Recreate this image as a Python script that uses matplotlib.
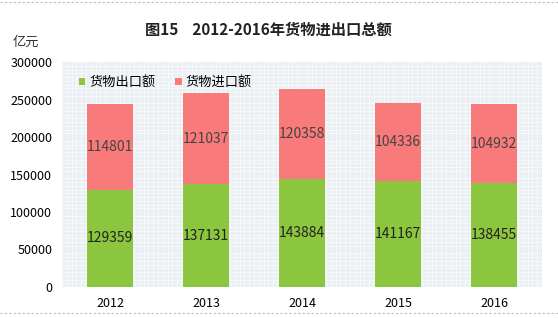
import matplotlib
matplotlib.use("Agg")
import matplotlib.pyplot as plt
from matplotlib.ticker import MultipleLocator

plt.rcParams['font.family'] = ['Noto Sans CJK SC', 'DejaVu Sans']

years = ['2012', '2013', '2014', '2015', '2016']
exports = [129359, 137131, 143884, 141167, 138455]
imports = [114801, 121037, 120358, 104336, 104932]
yticks = [0, 50000, 100000, 150000, 200000, 250000, 300000]

green = '#8cc63f'
red = '#f87a7a'

fig = plt.figure(figsize=(5.58, 3.18), dpi=100)
ax = fig.add_axes([62 / 558, 31 / 318, 480 / 558, 225 / 318])
ax.set_facecolor('#e9eff2')

x = range(len(years))
ax.bar(x, exports, width=0.48, color=green, label='货物出口额', zorder=3)
ax.bar(x, imports, width=0.48, bottom=exports, color=red, label='货物进口额', zorder=3)

for i in x:
    ax.text(i, exports[i] / 2, str(exports[i]), ha='center', va='center',
            fontsize=10, color='#222222', zorder=4)
    ax.text(i, exports[i] + imports[i] / 2, str(imports[i]), ha='center',
            va='center', fontsize=10, color='#444444', zorder=4)

ax.set_xlim(-0.5, 4.5)
ax.set_ylim(0, 300000)
ax.set_xticks(list(x))
ax.set_xticklabels(years, fontsize=9)
ax.set_yticks(yticks)
ax.set_yticklabels([str(t) for t in yticks], fontsize=9)
ax.tick_params(length=0, pad=7)

# fine textured background like the original
ax.xaxis.set_minor_locator(MultipleLocator(0.05))
ax.yaxis.set_minor_locator(MultipleLocator(5000))
ax.grid(True, which='minor', color='white', linewidth=0.5, alpha=0.8, zorder=1)
ax.grid(False, which='major')
for s in ax.spines.values():
    s.set_visible(False)
ax.tick_params(which='minor', length=0)

ax.legend(loc='upper left', ncol=2, frameon=False, fontsize=9.5,
          handlelength=0.5, handleheight=0.5, handletextpad=0.3,
          columnspacing=1.5, bbox_to_anchor=(0.01, 0.99))

fig.text(268 / 558, 1 - 30 / 318, '图15    2012-2016年货物进出口总额',
         ha='center', va='center', fontsize=11, fontweight='bold', color='#222222')
fig.text(26 / 558, 1 - 42 / 318, '亿元', ha='center', va='center',
         fontsize=9.5, color='#333333')

# dashed page border lines top and bottom
for yy in (2, 313):
    fig.add_artist(plt.Line2D([0, 1], [1 - yy / 318] * 2, color='#bbbbbb',
                              linestyle=(0, (2, 2)), linewidth=0.8))

fig.savefig('out.png', dpi=100)
